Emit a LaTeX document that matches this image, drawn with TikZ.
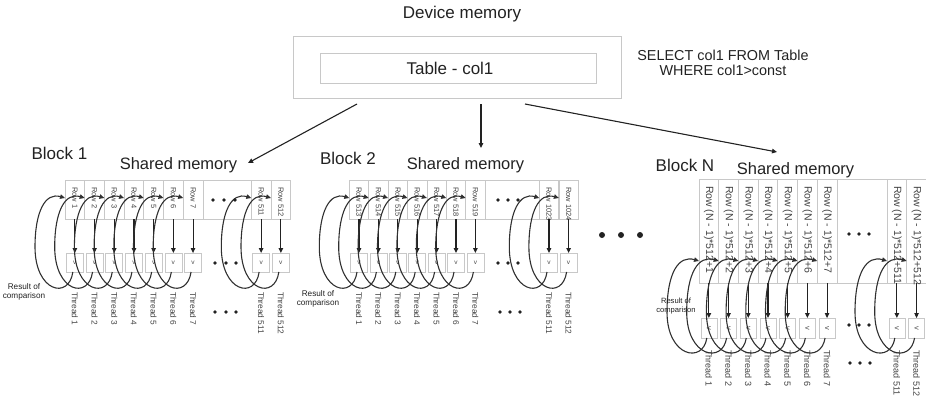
\documentclass[tikz,border=0pt]{standalone}
\usepackage{fontspec}
\setmainfont{Liberation Sans}
\usetikzlibrary{arrows.meta}
\definecolor{frame}{HTML}{C8C8C8}
\definecolor{ink}{HTML}{222222}
\definecolor{curvec}{HTML}{303030}
\begin{document}
\begin{tikzpicture}[x=1pt,y=-1pt,
  every node/.style={inner sep=0pt, outer sep=0pt, text=ink},
  fr/.style={draw=frame, line width=0.8pt},
  cellbox/.style={draw=frame, line width=0.7pt, anchor=north west},
  vbA/.style={draw=frame, line width=0.7pt, minimum width=17pt, minimum height=19pt, font=\fontsize{6.5}{7}\selectfont, text=ink!80},
  vbN/.style={draw=frame, line width=0.7pt, minimum width=16pt, minimum height=20pt},
  vtxt/.style={rotate=-90, font=\fontsize{7.5}{8}\selectfont, text=ink!80},
  rowA/.style={rotate=-90, anchor=west, font=\fontsize{7.5}{8}\selectfont, text=ink!85},
  thrA/.style={rotate=-90, anchor=west, font=\fontsize{8.3}{9}\selectfont, text=ink!85},
  rowN/.style={rotate=-90, anchor=west, font=\fontsize{10.5}{11}\selectfont, text=ink!85},
  thrN/.style={rotate=-90, anchor=west, font=\fontsize{9}{10}\selectfont, text=ink!85},
  arr/.style={draw=ink, line width=1.1pt, -{Triangle[length=5pt,width=4.5pt]}},
  curv/.style={draw=curvec, line width=1.1pt, -{Triangle[length=5pt,width=4.5pt]}},
  dot/.style={circle, fill=ink, minimum size=3.6pt},
  bigdot/.style={circle, fill=ink, minimum size=6pt},
  big/.style={font=\fontsize{17}{20}\selectfont},
  shm/.style={font=\fontsize{16.5}{20}\selectfont},
  note/.style={font=\fontsize{8.2}{9.5}\selectfont, align=center},
]
\useasboundingbox (0,0) rectangle (926,400);

% ---------- device memory ----------
\node[big] (devlbl) at (462,14) {Device memory};
\node[fr, minimum width=328pt, minimum height=62pt] (dev) at (457,67) {};
\node[fr, minimum width=276pt, minimum height=30pt] (tbl) at (458,68) {};
\node[big] (tbltxt) at (450,68) {Table - col1};
\node[font=\fontsize{14.4}{15}\selectfont, align=center] (sql) at (723,62.5) {SELECT col1 FROM Table\\WHERE col1>const};

% ---------- block labels ----------
\node[big] (b1) at (59.5,153) {Block 1};
\node[shm] (sm1) at (178.5,165) {Shared memory};
\node[big] (b2) at (348,158) {Block 2};
\node[shm] (sm2) at (465.5,165) {Shared memory};
\node[big] (bN) at (685,165) {Block N};
\node[shm] (smN) at (795.5,170) {Shared memory};

\coordinate (s1) at (357,104);
\coordinate (t1) at (248,163);
\coordinate (s2) at (481,104);
\coordinate (t2) at (481,148);
\coordinate (s3) at (525,104);
\coordinate (t3) at (777,152);
\draw[arr] (s1) -- (t1);
\draw[arr] (s2) -- (t2);
\draw[arr] (s3) -- (t3);

% ---------- block 1 ----------
\foreach \i/\x/\r in {1/65/1,2/84.7/2,3/104.4/3,4/124.1/4,5/143.8/5,6/163.5/6,7/183.2/7,8/251.3/511,9/271/512}{
  \node[cellbox, minimum width=19.7pt, minimum height=39pt] (a\i) at (\x,180) {};
  \node[rowA] (ar\i) at ([yshift=-7pt]a\i.north) {Row \r};
  \node[vbA] (av\i) at ([yshift=-43.5pt]a\i.south) {v};
  \node[thrA] (at\i) at ([yshift=-20pt]av\i.south) {Thread \r};
}
\draw[fr] (a7.north east) -- (a8.north west);
\draw[fr] (a7.south east) -- (a8.south west);
\foreach \i in {1,...,9}{
  \draw[arr] (a\i.south) -- (av\i.north);
  \draw[curv] ([xshift=-2pt]av\i.south)
     .. controls ([shift={(-6,28)}]av\i.south) and ([shift={(-30,92.5)}]a\i.west)
     .. ([shift={(-30,47.5)}]a\i.west)
     .. controls ([shift={(-30,12.5)}]a\i.west) and ([shift={(-20,-7.5)}]a\i.west)
     .. ([shift={(0,-1.5)}]a\i.west);
}
\node[dot] (ad1) at (213,200) {}; \node[dot] (ad2) at (224,200) {}; \node[dot] (ad3) at (235,200) {};
\node[dot] (ae1) at (215,263) {}; \node[dot] (ae2) at (226,263) {}; \node[dot] (ae3) at (236,263) {};
\node[dot] (af1) at (215,312) {}; \node[dot] (af2) at (226,312) {}; \node[dot] (af3) at (236,312) {};
\node[note] (ares) at (24,292) {Result of\\comparison};

% ---------- block 2 ----------
\foreach \i/\x/\r/\t in {1/349.3/513/1,2/368.7/514/2,3/388.1/515/3,4/407.5/516/4,5/426.9/517/5,6/446.3/518/6,7/465.7/519/7,8/539.3/1023/511,9/558.9/1024/512}{
  \node[cellbox, minimum width=19.4pt, minimum height=39pt] (c\i) at (\x,180) {};
  \node[rowA] (cr\i) at ([yshift=-7pt]c\i.north) {Row \r};
  \node[vbA] (cv\i) at ([yshift=-43.5pt]c\i.south) {v};
  \node[thrA] (ct\i) at ([yshift=-20pt]cv\i.south) {Thread \t};
}
\draw[fr] (c7.north east) -- (c8.north west);
\draw[fr] (c7.south east) -- (c8.south west);
\foreach \i in {1,...,9}{
  \draw[arr] (c\i.south) -- (cv\i.north);
  \draw[curv] ([xshift=-2pt]cv\i.south)
     .. controls ([shift={(-6,28)}]cv\i.south) and ([shift={(-30,92.5)}]c\i.west)
     .. ([shift={(-30,47.5)}]c\i.west)
     .. controls ([shift={(-30,12.5)}]c\i.west) and ([shift={(-20,-7.5)}]c\i.west)
     .. ([shift={(0,-1.5)}]c\i.west);
}
\node[dot] (cd1) at (498,200) {}; \node[dot] (cd2) at (508,200) {}; \node[dot] (cd3) at (518,200) {};
\node[dot] (ce1) at (498,263) {}; \node[dot] (ce2) at (508,263) {}; \node[dot] (ce3) at (518,263) {};
\node[dot] (cf1) at (500,312) {}; \node[dot] (cf2) at (510,312) {}; \node[dot] (cf3) at (520,312) {};
\node[note] (cres) at (318,299) {Result of\\comparison};

% ---------- between blocks ----------
\node[bigdot] (m1) at (602,235) {};
\node[bigdot] (m2) at (621,235) {};
\node[bigdot] (m3) at (640,235) {};

% ---------- block N ----------
\foreach \i/\x/\r/\t in {1/699/1/1,2/718.7/2/2,3/738.4/3/3,4/758.1/4/4,5/777.8/5/5,6/797.5/6/6,7/817.2/7/7,8/887/511/511,9/906.7/512/512}{
  \node[cellbox, minimum width=19.7pt, minimum height=104pt] (n\i) at (\x,179) {};
  \node[rowN] (nr\i) at ([yshift=-7pt]n\i.north) {Row (N - 1)*512+\r};
  \node[vbN] (nv\i) at ([yshift=-45pt]n\i.south) {};
  \node[vtxt] (nvt\i) at (nv\i.center) {v};
  \node[thrN] (nt\i) at ([yshift=-12pt]nv\i.south) {Thread \t};
}
\draw[fr] (n7.north east) -- (n8.north west);
\draw[fr] (n7.south east) -- (n8.south west);
\foreach \i in {1,...,9}{
  \draw[arr] (n\i.south) -- (nv\i.north);
  \draw[curv] ([xshift=-2pt]nv\i.south)
     .. controls ([shift={(-6,26)}]nv\i.south) and ([shift={(-32,126)}]n\i.west)
     .. ([shift={(-32,81)}]n\i.west)
     .. controls ([shift={(-32,41)}]n\i.west) and ([shift={(-20,24)}]n\i.west)
     .. ([shift={(0,30)}]n\i.west);
}
\node[dot] (nd1) at (849,234) {}; \node[dot] (nd2) at (859,234) {}; \node[dot] (nd3) at (869,234) {};
\node[dot] (ne1) at (849,325) {}; \node[dot] (ne2) at (859,325) {}; \node[dot] (ne3) at (869,325) {};
\node[dot] (nf1) at (850,363) {}; \node[dot] (nf2) at (860,363) {}; \node[dot] (nf3) at (870,363) {};
\node[note, font=\fontsize{7.6}{8.5}\selectfont] (nres) at (676,306) {Result of\\comparison};
\end{tikzpicture}
\end{document}
